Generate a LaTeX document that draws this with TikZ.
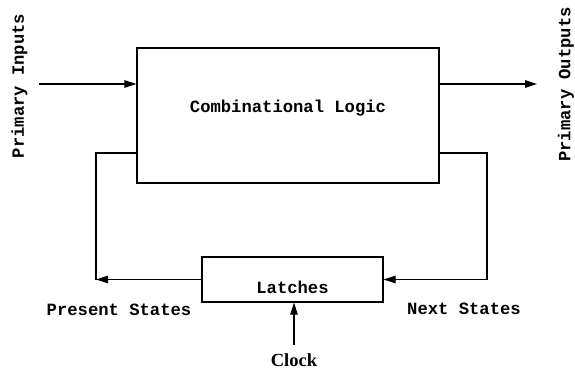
\documentclass[tikz,border=0pt]{standalone}
\usepackage{fontspec}
\setmonofont{Liberation Mono}
\newfontfamily\clockfont{Liberation Serif}
\usetikzlibrary{arrows.meta}
\begin{document}
\begin{tikzpicture}[x=1pt,y=-1pt,
  blk/.style={draw,line width=1.2pt,inner sep=0pt},
  lbl/.style={font=\ttfamily\bfseries\fontsize{17.2}{19}\selectfont,inner sep=0pt},
  wire/.style={line width=1.2pt},
  arr/.style={wire,-{Triangle[length=12pt,width=7.5pt]}}]
\useasboundingbox (0,0) rectangle (575,371);
\node[blk,minimum width=302pt,minimum height=135pt] (comb) at (288,115.5) {};
\node[lbl] (combtxt) at (288,108) {Combinational Logic};
\node[blk,minimum width=181pt,minimum height=45pt] (latch) at (292.5,279.5) {};
\node[lbl] (latchtxt) at (292.5,287) {Latches};
\coordinate (pin) at (39,84);
\coordinate (pout) at (537,84);
\coordinate (cl) at (137,153);
\coordinate (cr) at (439,153);
\coordinate (lc) at (96,279.5);
\coordinate (rc) at (487,279.5);
\coordinate (clk) at (294,345);
\draw[arr] (pin) -- (pin -| comb.west);
\draw[arr] (pout -| comb.east) -- (pout);
\draw[arr] (latch.west) -- (lc);
\draw[wire] (lc) |- (cl);
\draw[wire] (cr) -| (rc);
\draw[arr] (rc) -- (latch.east);
\draw[arr] (clk) -- (clk |- latch.south);
\node[lbl,rotate=90] (pi) at (19.5,86) {Primary Inputs};
\node[lbl,rotate=90] (po) at (566,84.5) {Primary Outputs};
\node[lbl] (ps) at (119,310) {Present States};
\node[lbl] (ns) at (464,309) {Next States};
\node[font=\clockfont\bfseries\fontsize{18.5}{20}\selectfont,inner sep=0pt] (clock) at (294,360) {Clock};
\end{tikzpicture}
\end{document}
